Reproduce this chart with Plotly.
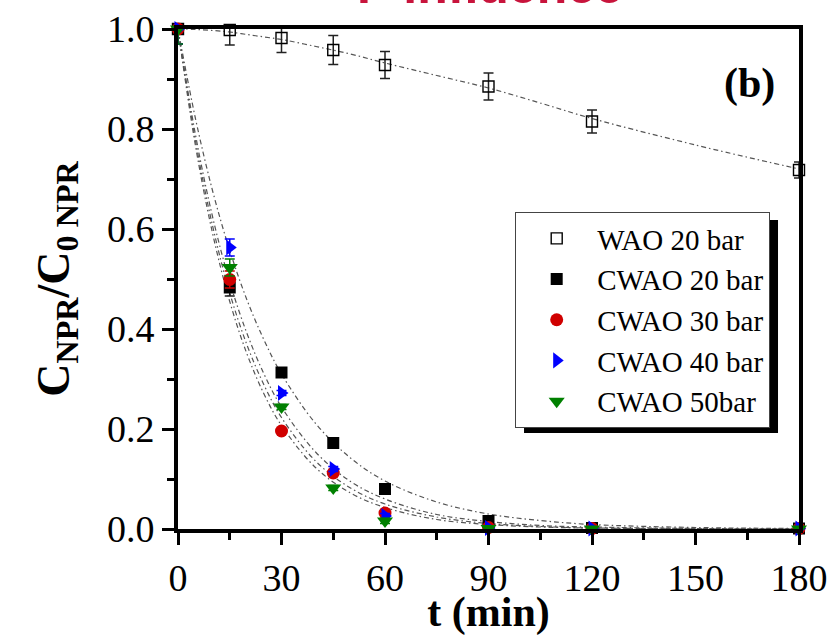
import plotly.graph_objects as go

# Reaction time (min)
t = [0, 15, 30, 45, 60, 90, 120, 180]

# Normalised NPR concentration C/C0 for each run
wao_20 = [1.000, 0.998, 0.982, 0.958, 0.928, 0.885, 0.815, 0.718]
wao_20_err = [0.030, 0.030, 0.029, 0.029, 0.027, 0.027, 0.023, 0.016]

cwao_20 = [1.000, 0.483, 0.313, 0.172, 0.080, 0.016, 0.002, 0.001]
cwao_30 = [1.000, 0.499, 0.196, 0.112, 0.032, 0.003, 0.001, 0.001]
cwao_40 = [1.000, 0.563, 0.272, 0.120, 0.026, 0.002, 0.001, 0.001]
cwao_50 = [1.000, 0.523, 0.244, 0.082, 0.016, 0.001, 0.000, 0.000]
cwao_err = [0.030, 0.017, 0.005, 0.005, 0.005, 0.002, 0.002, 0.002]

# Fitted kinetic curves
t_fit = [0, 5, 10, 15, 20, 25, 30, 40, 50, 60, 75, 90, 105, 120, 150, 180]
fit_wao_20 = [1.000, 0.999, 0.997, 0.994, 0.989, 0.984, 0.979, 0.965, 0.950, 0.932,
              0.907, 0.882, 0.852, 0.821, 0.768, 0.720]
fit_cwao_20 = [1.000, 0.823, 0.677, 0.557, 0.458, 0.377, 0.310, 0.210, 0.142, 0.096,
               0.054, 0.030, 0.017, 0.009, 0.003, 0.001]
fit_cwao_30 = [1.000, 0.769, 0.592, 0.455, 0.350, 0.269, 0.207, 0.122, 0.072, 0.043,
               0.019, 0.009, 0.004, 0.002, 0.000, 0.000]
fit_cwao_40 = [1.000, 0.791, 0.625, 0.494, 0.391, 0.309, 0.244, 0.153, 0.095, 0.060,
               0.029, 0.015, 0.007, 0.004, 0.001, 0.000]
fit_cwao_50 = [1.000, 0.779, 0.607, 0.472, 0.368, 0.287, 0.223, 0.135, 0.082, 0.050,
               0.024, 0.011, 0.005, 0.002, 0.001, 0.000]

x_ticks = [0, 30, 60, 90, 120, 150, 180]
y_ticks = [0.0, 0.2, 0.4, 0.6, 0.8, 1.0]

SERIF = "Liberation Serif"

fig = go.Figure()

fit_line = dict(color="#555555", width=1.2, dash="5px,3px,1.5px,3px", shape="spline")
for y_fit in [fit_wao_20, fit_cwao_20, fit_cwao_30, fit_cwao_40, fit_cwao_50]:
    fig.add_trace(go.Scatter(x=t_fit, y=y_fit, mode="lines", line=fit_line,
                             showlegend=False, hoverinfo="skip", cliponaxis=True))

series = [
    ("WAO 20 bar", wao_20, wao_20_err, "square-open", "black", 11),
    ("CWAO 20 bar", cwao_20, cwao_err, "square", "black", 12),
    ("CWAO 30 bar", cwao_30, cwao_err, "circle", "#D00000", 13),
    ("CWAO 40 bar", cwao_40, cwao_err, "triangle-right", "#0000FF", 14),
    ("CWAO 50bar", cwao_50, cwao_err, "triangle-down", "#008000", 14),
]
for name, vals, errs, sym, col, size in series:
    fig.add_trace(go.Scatter(
        x=t, y=vals, name=name, mode="markers", cliponaxis=False,
        marker=dict(symbol=sym, color=col, size=size,
                    line=dict(color=col, width=1.4 if sym.endswith("open") else 0)),
        error_y=dict(type="data", array=errs, color=col if col != "black" else "#222222",
                     thickness=1.5, width=5),
    ))

# Drop shadow behind the legend box
fig.add_shape(type="rect", xref="paper", yref="paper",
              x0=0.5572, x1=0.9662, y0=0.192, y1=0.618,
              fillcolor="black", line=dict(width=0), layer="above")

fig.add_annotation(text="<b>(b)</b>", xref="paper", yref="paper", x=0.920, y=0.891,
                   showarrow=False, font=dict(family=SERIF, size=42, color="black"),
                   xanchor="center", yanchor="middle")
fig.add_annotation(text="<b>P influence</b>", xref="paper", yref="paper", x=0.502, y=1,
                   showarrow=False, yanchor="bottom", yshift=13,
                   font=dict(family="Liberation Sans", size=50, color="#C8143C"))

fig.update_layout(
    width=833, height=636,
    margin=dict(l=178, r=34, t=29, b=107, autoexpand=False),
    paper_bgcolor="white", plot_bgcolor="white",
    font=dict(family=SERIF, color="black"),
    legend=dict(x=0.543, y=0.634, xanchor="left", yanchor="top",
                bgcolor="white", bordercolor="#444444", borderwidth=1,
                font=dict(family=SERIF, size=29, color="black"),
                itemwidth=71, tracegroupgap=0),
    xaxis=dict(
        range=[0, 180], tickvals=x_ticks, ticktext=[str(v) for v in x_ticks],
        showgrid=False, zeroline=False, automargin=False,
        showline=True, linecolor="black", linewidth=4, mirror=True,
        ticks="outside", ticklen=12, tickwidth=3, tickcolor="black",
        minor=dict(dtick=15, ticks="outside", ticklen=7, tickwidth=3, tickcolor="black"),
        tickfont=dict(family=SERIF, size=38),
        title=dict(text="<b>t (min)</b>", font=dict(family=SERIF, size=42), standoff=6),
    ),
    yaxis=dict(
        range=[0, 1.0], tickvals=y_ticks, ticktext=[f"{v:.1f}" for v in y_ticks],
        showgrid=False, zeroline=False, automargin=False,
        showline=True, linecolor="black", linewidth=4, mirror=True,
        ticks="outside", ticklen=12, tickwidth=3, tickcolor="black",
        minor=dict(dtick=0.1, ticks="outside", ticklen=7, tickwidth=3, tickcolor="black"),
        tickfont=dict(family=SERIF, size=38),
        title=dict(text="<b>C<sub>NPR</sub>/C<sub>0 NPR</sub></b>",
                   font=dict(family=SERIF, size=46), standoff=24),
    ),
)

fig.write_html("out.html")
